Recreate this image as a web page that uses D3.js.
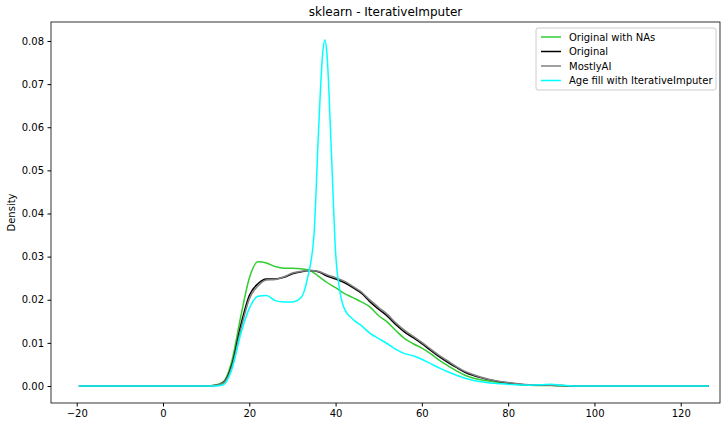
<!DOCTYPE html>
<html><head><meta charset="utf-8">
<script src="https://cdn.jsdelivr.net/npm/d3@7"></script>
<style>body{margin:0;background:#fff}text{font-family:"DejaVu Sans",sans-serif}</style>
</head><body><div id="chart"></div>
<script>
// density curves: [age, density]
var greenNA = [[-19.5,0],[10,0],[12,0.0002],[14,0.001],[16,0.006],[18,0.016],[20,0.025],[22,0.0288],[24,0.0285],[26,0.0277],[28,0.0273],[30,0.0273],[32,0.0272],[34,0.0268],[36,0.0255],[38,0.024],[40,0.0228],[42,0.0215],[44,0.0205],[46,0.0195],[48,0.0183],[50,0.0163],[52,0.0148],[54,0.0128],[56,0.011],[58,0.0098],[60,0.0088],[62,0.0075],[64,0.006],[66,0.0047],[68,0.0035],[70,0.0025],[72,0.0018],[75,0.0012],[80,0.0006],[85,0.0002],[90,0.0001],[95,0],[126.5,0]];
var original = [[-19.5,0],[10,0],[12,0.0001],[14,0.0008],[16,0.005],[18,0.014],[20,0.021],[22,0.0237],[24,0.0248],[26,0.0248],[28,0.0252],[30,0.026],[32,0.0265],[34,0.0268],[36,0.0265],[38,0.0255],[40,0.0248],[42,0.024],[44,0.0228],[46,0.0215],[48,0.0195],[50,0.0178],[52,0.0162],[54,0.0142],[56,0.0125],[58,0.0112],[60,0.0098],[62,0.0083],[64,0.0068],[66,0.0055],[68,0.0043],[70,0.0032],[72,0.0024],[75,0.0016],[80,0.0007],[85,0.0002],[90,0.0002],[95,0],[126.5,0]];
var mostly = [[-19.5,0],[10,0],[12,0.0001],[14,0.0007],[16,0.0045],[18,0.013],[20,0.0202],[22,0.0232],[24,0.0246],[26,0.0247],[28,0.0253],[30,0.0262],[32,0.0266],[34,0.0268],[36,0.0266],[38,0.0258],[40,0.0251],[42,0.0243],[44,0.0231],[46,0.0218],[48,0.0199],[50,0.0182],[52,0.0166],[54,0.0146],[56,0.0129],[58,0.0115],[60,0.0101],[62,0.0086],[64,0.0071],[66,0.0058],[68,0.0045],[70,0.0034],[72,0.0026],[75,0.0017],[80,0.0008],[85,0.0003],[90,0.0002],[95,0],[126.5,0]];
var iterFill = [[-19.5,0],[10,0],[12,0],[14,0.0003],[16,0.004],[18,0.012],[20,0.018],[22,0.0208],[24,0.021],[26,0.0198],[28,0.0195],[30,0.0195],[32,0.0205],[33.5,0.025],[35,0.035],[36,0.058],[37,0.077],[37.5,0.0803],[38,0.077],[39,0.055],[40,0.031],[41,0.022],[42,0.018],[44,0.0155],[46,0.014],[48,0.0122],[50,0.011],[52,0.0098],[54,0.0085],[56,0.0075],[58,0.007],[60,0.0062],[62,0.0052],[64,0.0042],[66,0.0033],[68,0.0025],[70,0.0018],[72,0.0013],[75,0.0008],[80,0.0004],[85,0.0002],[88,0.0003],[90,0.0004],[92,0.0002],[95,0],[126.5,0]];
var seriesNames = ["Original with NAs","Original","MostlyAI","Age fill with IterativeImputer"];
var seriesColors = ["#32cd32","#000000","#808080","#00ffff"];
var xTicks = [-20,0,20,40,60,80,100,120];
var yTicks = [0,0.01,0.02,0.03,0.04,0.05,0.06,0.07,0.08];

var W = 727, H = 427, L = 51, R = 720, T = 22, B = 403;
var svg = d3.select("#chart").append("svg").attr("width", W).attr("height", H);
var x = d3.scaleLinear().domain([-25.96, 129.1]).range([L, R]);
var y = d3.scaleLinear().domain([-0.00394, 0.0844]).range([B, T]);

var line = d3.line().x(d => x(d[0])).y(d => y(d[1])).curve(d3.curveMonotoneX);
var g = svg.append("g");
[greenNA, original, mostly, iterFill].forEach(function(s, i){
    g.append("path").datum(s).attr("d", line).attr("fill", "none")
        .attr("stroke", seriesColors[i]).attr("stroke-width", 1.5);
});

svg.append("rect").attr("x", L).attr("y", T).attr("width", R-L).attr("height", B-T)
    .attr("fill", "none").attr("stroke", "#000").attr("stroke-width", 0.8);

svg.append("g").attr("transform", "translate(0," + B + ")")
    .call(d3.axisBottom(x).tickValues(xTicks).tickSize(3.5).tickPadding(3.5).tickFormat(d3.format("d")))
    .call(a => a.select(".domain").remove())
    .selectAll("text").attr("font-size", 10).attr("font-family", "DejaVu Sans").attr("fill", "#000");
svg.append("g").attr("transform", "translate(" + L + ",0)")
    .call(d3.axisLeft(y).tickValues(yTicks).tickSize(3.5).tickPadding(3.5).tickFormat(d3.format(".2f")))
    .call(a => a.select(".domain").remove())
    .selectAll("text").attr("font-size", 10).attr("font-family", "DejaVu Sans").attr("fill", "#000");

svg.append("text").attr("x", (L+R)/2).attr("y", 16).attr("text-anchor", "middle")
    .attr("font-size", 12).text("sklearn - IterativeImputer");
svg.append("text").attr("transform", "translate(15," + ((T+B)/2) + ") rotate(-90)")
    .attr("text-anchor", "middle").attr("font-size", 10).text("Density");

var lg = svg.append("g").attr("transform", "translate(536,28)");
lg.append("rect").attr("width", 180).attr("height", 62).attr("rx", 2)
    .attr("fill", "#fff").attr("fill-opacity", 0.8).attr("stroke", "#ccc");
seriesNames.forEach(function(n, i){
    var yy = 9 + i * 14.5;
    lg.append("line").attr("x1", 5).attr("x2", 25).attr("y1", yy).attr("y2", yy)
        .attr("stroke", seriesColors[i]).attr("stroke-width", 1.5);
    lg.append("text").attr("x", 33).attr("y", yy + 3.5).attr("font-size", 10).text(n);
});
</script></body></html>
